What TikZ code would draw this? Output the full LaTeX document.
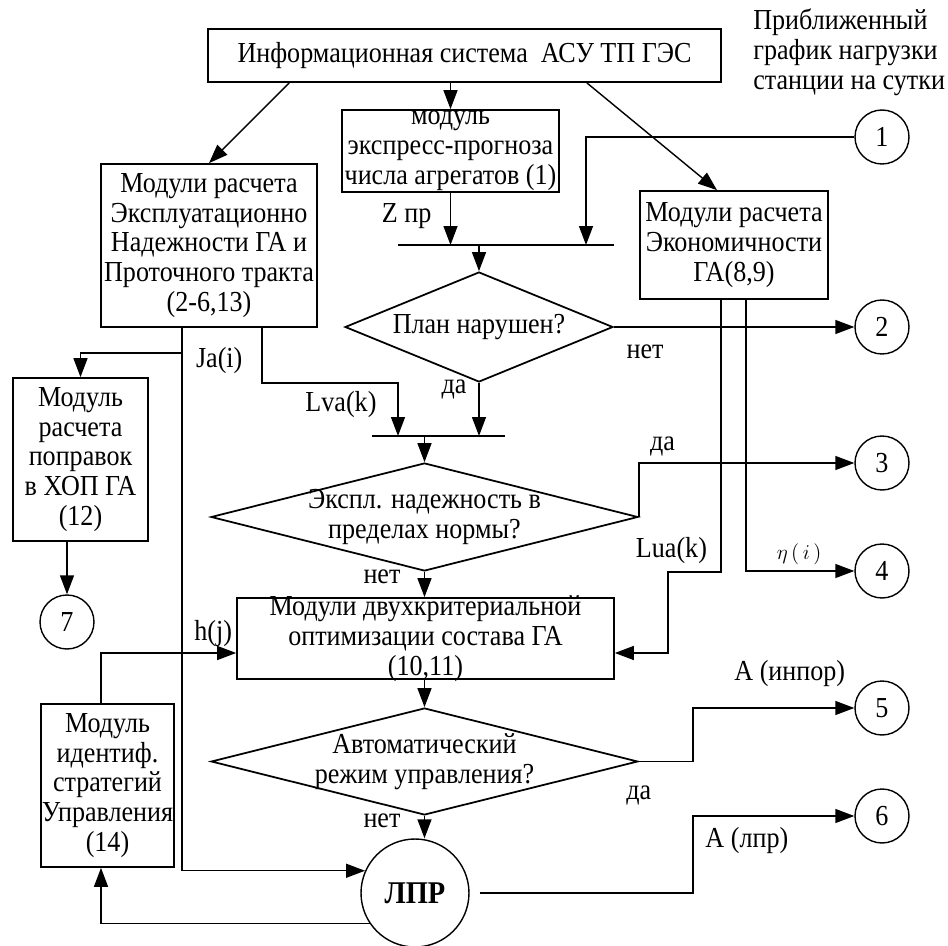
\documentclass[tikz,border=0pt]{standalone}
\usepackage{fontspec}
\setmainfont{Liberation Serif}[FakeStretch=0.9]
\usepackage{amsmath}
\usetikzlibrary{shapes.geometric, arrows.meta}

\begin{document}
\begin{tikzpicture}
			[x=0.02cm, y=-0.02cm,
			font=\fontsize{16.5}{17}\selectfont,
			block/.style={draw, line width=1pt, rectangle, align=center, inner xsep=-0.4cm, inner ysep=-0.4cm},
			decision/.style={draw, line width=1pt, diamond, inner sep=0pt},
			port/.style={draw, circle, line width=0.8pt, minimum size=1.08cm, inner sep=0pt},
			flow/.style={-{Triangle[length=0.38cm, width=0.28cm]}, line width=0.8pt},
			joint/.style={line width=1pt}]
		\useasboundingbox (0,0) rectangle (948,946);

		% nodes %
		\node[block, minimum width=10.26cm, minimum height=1.06cm] (info) at (464.5,55.5) {Информационная система~~АСУ ТП ГЭС};
		\node[anchor=west, align=left, inner sep=0pt] (plan) at (753,52) {Приближенный\\график нагрузки\\станции на сутки};
		\node[block, minimum width=4.34cm, minimum height=1.64cm] (prog) at (450.5,151) {модуль\\экспресс-прогноза\\числа агрегатов (1)};
		\node[block, minimum width=4.32cm, minimum height=3.26cm] (rel) at (209,245.5) {Модули расчета\\Эксплуатационно\\Надежности ГА и\\Проточного тракта\\(2-6,13)};
		\node[block, minimum width=3.76cm, minimum height=2.16cm] (eco) at (734,245) {Модули расчета\\Экономичности\\ГА(8,9)};
		\node[block, minimum width=2.7cm, minimum height=3.26cm] (corr) at (80.5,459.5) {Модуль\\расчета\\поправок\\в ХОП ГА\\(12)};
		\node[block, minimum width=7.54cm, minimum height=1.62cm] (opt) at (425.5,638.5) {Модули двухкритериальной\\оптимизации состава ГА\\(10,11)};
		\node[block, minimum width=2.66cm, minimum height=3.26cm] (ident) at (107.5,785.5) {Модуль\\идентиф.\\стратегий\\Управления\\(14)};

		\node[decision, minimum width=5.36cm, minimum height=2.2cm, label=center:План нарушен?] (q1) at (479,327) {};
		\node[decision, minimum width=8.54cm, minimum height=2.16cm, label={[align=center]center:Экспл. надежность в\\пределах нормы?}] (q2) at (424.5,517) {};
		\node[decision, minimum width=8.54cm, minimum height=2.14cm, label={[align=center]center:Автоматический\\режим управления?}] (q3) at (424.5,761.5) {};

		\node[port] (c1) at (882,137) {1};
		\node[port] (c2) at (882,327) {2};
		\node[port] (c3) at (882,463) {3};
		\node[port] (c4) at (882,571) {4};
		\node[port] (c5) at (882,708) {5};
		\node[port] (c6) at (882,816) {6};
		\node[port] (c7) at (67,622) {7};
		\node[port, minimum size=2.16cm, font=\fontsize{18}{20}\selectfont\bfseries] (lpr) at (415,893) {ЛПР};

		% merge bars %
		\coordinate (b1l) at (398,245);
		\coordinate (b1r) at (614,245);
		\coordinate (t1) at (586,245);
		\coordinate (b2l) at (372,436);
		\coordinate (b2r) at (505,436);
		\coordinate (t2) at (398,436);
		\coordinate (jb) at (182,353);
		\coordinate (jr) at (693,762);
		\draw[joint] (b1l) -- (b1r);
		\draw[joint] (b2l) -- (b2r);

		% edges %
		\draw[flow] ([xshift=1.64cm]info.south west) -- (rel.north);
		\draw[flow] (prog.north |- info.south) -- (prog.north);
		\draw[flow] ([xshift=-2.7cm]info.south east) -- ([xshift=-0.34cm]eco.north);
		\draw[flow] (c1.west) -| (t1);
		\draw[flow] (prog.south) -- (prog.south |- t1) node[pos=0.45, left=0.25cm] {Z пр};
		\draw[flow] (q1.north |- b1l) -- (q1.north);
		\draw[flow] (q1.east) -- (c2) node[pos=0.13, below=0.22cm] {нет};
		\draw[flow] (q1.south) -- (q1.south |- t2) node[pos=0.12, left=0.12cm] {да};
		\draw[flow] ([xshift=1.06cm]rel.south) -- ++(0,55) -| (t2) node[pos=0.7, left=0.3cm] {Lva(k)};
		\draw[flow] (rel.south -| jb) |- (lpr.156) node[pos=0.03, right=0.15cm] {Ja(i)};
		\draw[flow] (jb) -| (corr.north);
		\draw[flow] (c7 |- corr.south) -- (c7);
		\draw[flow] (q2.north |- b2l) -- (q2.north);
		\draw[flow] (q2.east) |- (c3) node[pos=0.555, above] {да};
		\draw[flow] (q2.south) -- (q2.south |- opt.north) node[pos=0.2, left=0.35cm] {нет};
		\draw[flow] ([xshift=-0.26cm]eco.south) -- ++(0,272) node[pos=0.92, left=0.15cm] {Lua(k)} -- ++(-53,0) |- ([yshift=-0.29cm]opt.east);
		\draw[flow] ([xshift=0.24cm]eco.south) |- (c4) node[pos=0.745, above, font=\fontsize{12}{14}\selectfont] {$\eta\,(\,i\,)$};
		\draw[flow] ([xshift=-0.13cm]ident.north) |- ([yshift=-0.29cm]opt.west) node[pos=0.915, above] {h(j)};
		\draw[flow] (q3.north |- opt.south) -- (q3.north);
		\draw[flow] (q3.east) -- (q3.east -| jr) node[pos=0, below=0.36cm] {да} |- (c5) node[pos=0.8, above=0.3cm] {А (инпор)};
		\draw[flow] (q3.south) -- (q3.south |- lpr.north) node[pos=0.2, left=0.35cm] {нет};
		\draw[flow, shorten <=0.2cm] (lpr.east) -- (lpr.east -| jr) |- (c6) node[pos=0.667, below=0.1cm] {А (лпр)};
		\draw[flow] (lpr.214) -| ([xshift=-0.13cm]ident.south);
		\end{tikzpicture}
\end{document}
